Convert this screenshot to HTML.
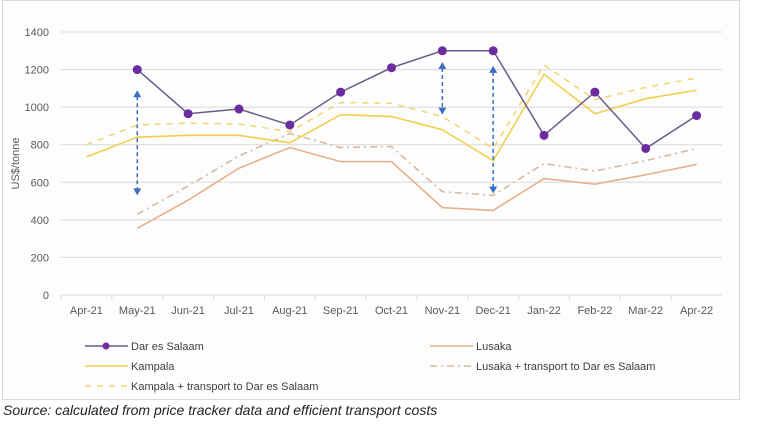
<!DOCTYPE html>
<html><head><meta charset="utf-8"><style>
body{margin:0;background:#fff;font-family:"Liberation Sans",sans-serif;}
#wrap{position:relative;width:761px;height:432px;overflow:hidden;}
#frame{position:absolute;left:2px;top:0;width:736px;height:398px;border:1px solid #d9d9d9;background:#fdfdfd;}
#src{position:absolute;left:3px;top:402px;font-size:14px;font-style:italic;color:#222;}
</style></head><body>
<div id="wrap">
<div id="frame"></div>
<svg id="chart" width="761" height="432" style="position:absolute;left:0;top:0"></svg>
<div id="src">Source: calculated from price tracker data and efficient transport costs</div>
</div>
<script>
const categories=["Apr-21","May-21","Jun-21","Jul-21","Aug-21","Sep-21","Oct-21","Nov-21","Dec-21","Jan-22","Feb-22","Mar-22","Apr-22"];
const yTicks=[0,200,400,600,800,1000,1200,1400];
const darEsSalaam=[null,1200,965,990,905,1080,1210,1300,1300,850,1080,780,955];
const kampala=[735,840,850,850,810,960,950,880,715,1175,965,1045,1090];
const lusaka=[null,355,505,675,785,710,710,465,450,620,590,640,695];
const lusakaTransport=[null,430,580,740,860,785,790,550,530,700,660,715,780];
const kampalaTransport=[800,905,915,910,870,1025,1020,950,780,1225,1040,1105,1155];
const arrowIdx=[1,7,8];
const arrowTop=[1090,1240,1220];
const arrowBottom=[530,960,540];

const NS="http://www.w3.org/2000/svg";
const svg=document.getElementById('chart');
const L=61,R=722,T=32,B=295;
const step=(R-L)/categories.length;
const x=i=>L+step*(i+0.5);
const y=v=>B-(v/1400)*(B-T);
function el(t,a){const e=document.createElementNS(NS,t);for(const k in a)e.setAttribute(k,a[k]);svg.appendChild(e);return e;}

yTicks.forEach(v=>{
  const g=el('line',{x1:L,x2:R,y1:y(v),y2:y(v),stroke:'#d9d9d9','stroke-width':1});
  
  
  const t=el('text',{x:L-12,y:y(v)+4,'text-anchor':'end','font-size':11,fill:'#595959'});
  t.textContent=v;
  
  
});
categories.forEach((c,i)=>{
  const tk=el('line',{x1:L+step*i,x2:L+step*i,y1:B,y2:B+5,stroke:'#d9d9d9'});
  
  
  const t=el('text',{x:x(i),y:B+19,'text-anchor':'middle','font-size':11,fill:'#595959'});
  t.textContent=c;
  
  
});
const yt=el('text',{x:0,y:0,transform:`translate(19,${(T+B)/2}) rotate(-90)`,'text-anchor':'middle','font-size':11,fill:'#595959'});
yt.textContent='US$/tonne';



function series(data,name,attrs){
  let d='';let pen=false;
  data.forEach((v,i)=>{if(v==null){pen=false;return;}d+=(pen?'L':'M')+x(i)+' '+y(v)+' ';pen=true;});
  const p=el('path',Object.assign({d:d,fill:'none'},attrs));
  
  
}
series(kampalaTransport,'kampala-transport-line',{stroke:'#f2d675','stroke-width':1.6,'stroke-dasharray':'6 6'});
series(lusakaTransport,'lusaka-transport-line',{stroke:'#d9b8a0','stroke-width':1.6,'stroke-dasharray':'7 4 2 4'});
series(lusaka,'lusaka-line',{stroke:'#e8b08a','stroke-width':1.6});
series(kampala,'kampala-line',{stroke:'#f2cf4a','stroke-width':1.6});
series(darEsSalaam,'dar-es-salaam-line',{stroke:'#6c5a8a','stroke-width':1.5});
darEsSalaam.forEach((v,i)=>{if(v==null)return;
  const c=el('circle',{cx:x(i),cy:y(v),r:4.5,fill:'#6a2c9e'});
  
  
});
arrowIdx.forEach((ci,k)=>{
  const xx=x(ci),y1=y(arrowTop[k]),y2=y(arrowBottom[k]);
  const ln=el('line',{x1:xx,x2:xx,y1:y1+6,y2:y2-6,stroke:'#3a6fc4','stroke-width':1.5,'stroke-dasharray':'4 3'});
  
  
  const a1=el('path',{d:`M${xx-4} ${y1+7} L${xx+4} ${y1+7} L${xx} ${y1} Z`,fill:'#3a6fc4'});
  
  
  const a2=el('path',{d:`M${xx-4} ${y2-7} L${xx+4} ${y2-7} L${xx} ${y2} Z`,fill:'#3a6fc4'});
  
  
});
const legend=[
 ['Dar es Salaam',85,346,{stroke:'#6c5a8a'},true],
 ['Lusaka',430,346,{stroke:'#e8b08a'},false],
 ['Kampala',85,366,{stroke:'#f2cf4a'},false],
 ['Lusaka + transport to Dar es Salaam',430,366,{stroke:'#d9b8a0','stroke-dasharray':'7 4 2 4'},false],
 ['Kampala + transport to Dar es Salaam',85,386,{stroke:'#f2d675','stroke-dasharray':'6 6'},false]];
legend.forEach(([t,lx,ly,st,mk])=>{
  const l=el('line',Object.assign({x1:lx,x2:lx+43,y1:ly,y2:ly,'stroke-width':1.6},st));
  
  
  if(mk){const c=el('circle',{cx:lx+21,cy:ly,r:3.5,fill:'#6a2c9e'});
    
    }
  const tx=el('text',{x:lx+46,y:ly+4,'font-size':11,fill:'#404040'});
  tx.textContent=t;
  
  
});
</script>
</body></html>
